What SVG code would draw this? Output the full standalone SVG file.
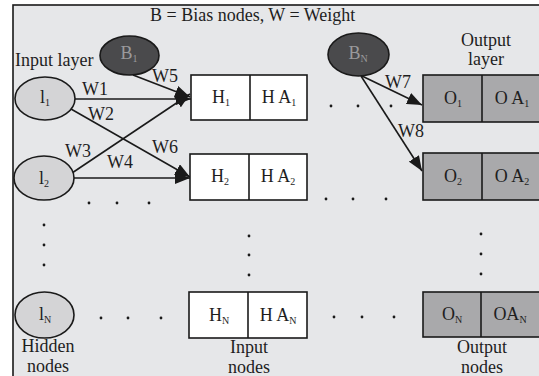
<svg xmlns="http://www.w3.org/2000/svg" width="539" height="376" viewBox="0 0 539 376">
<style>
text{font-family:"Liberation Serif","Times New Roman",serif;font-size:18px;fill:#1e1e1e}
.sub{font-size:10px}
.c{text-anchor:middle}
.ln{stroke:#1a1a1a;stroke-width:1.6;fill:none}
.in{fill:#d4d4d6;stroke:#1a1a1a;stroke-width:1.6}
.bias{fill:#4a4a4c;stroke:#1a1a1a;stroke-width:1.6}
.hb{fill:#ffffff;stroke:#1a1a1a;stroke-width:1.6}
.ob{fill:#a9a9ab;stroke:#1a1a1a;stroke-width:1.6}
.dot{fill:#1a1a1a}
</style>
<defs>
<marker id="ah" markerUnits="userSpaceOnUse" markerWidth="16" markerHeight="12" refX="15" refY="6" orient="auto">
<path d="M0,0 L15,6 L0,12 z" fill="#1a1a1a"/>
</marker>
</defs>
<rect x="0" y="0" width="539" height="376" fill="#ffffff"/>
<rect x="13" y="5" width="540" height="390" fill="#e6e7e9" stroke="#1a1a1a" stroke-width="1.6"/>
<text x="150" y="21">B = Bias nodes, W = Weight</text>
<text x="15" y="66">Input layer</text>
<text x="486" y="46" class="c">Output</text>
<text x="486" y="65" class="c">layer</text>
<text x="48" y="352" class="c">Hidden</text>
<text x="48" y="372" class="c">nodes</text>
<text x="249" y="353" class="c">Input</text>
<text x="249" y="373" class="c">nodes</text>
<text x="482" y="353" class="c">Output</text>
<text x="482" y="373" class="c">nodes</text>

<g id="connectors">
<line class="ln" x1="75" y1="99" x2="191" y2="99" marker-end="url(#ah)"/>
<line class="ln" x1="71" y1="109" x2="190" y2="177" marker-end="url(#ah)"/>
<line class="ln" x1="72" y1="173" x2="190" y2="94" marker-end="url(#ah)"/>
<line class="ln" x1="74" y1="178" x2="190" y2="178" marker-end="url(#ah)"/>
<line class="ln" x1="133" y1="75" x2="190" y2="97" marker-end="url(#ah)"/>
<line class="ln" x1="362" y1="76" x2="422" y2="105" marker-end="url(#ah)"/>
<line class="ln" x1="361" y1="76" x2="422" y2="171" marker-end="url(#ah)"/>
<text x="82" y="95">W1</text>
<text x="88" y="120">W2</text>
<text x="65" y="157">W3</text>
<text x="107" y="168">W4</text>
<text x="152" y="82">W5</text>
<text x="152" y="153">W6</text>
<text x="385" y="88">W7</text>
<text x="398" y="137">W8</text>
</g>

<g id="dots">
<circle class="dot" cx="331" cy="106" r="1.4"/><circle class="dot" cx="358" cy="106" r="1.4"/><circle class="dot" cx="391" cy="106" r="1.4"/>
<circle class="dot" cx="89" cy="203" r="1.4"/><circle class="dot" cx="117" cy="203" r="1.4"/><circle class="dot" cx="149" cy="203" r="1.4"/>
<circle class="dot" cx="44" cy="225" r="1.4"/><circle class="dot" cx="44" cy="245" r="1.4"/><circle class="dot" cx="44" cy="265" r="1.4"/>
<circle class="dot" cx="249" cy="236" r="1.4"/><circle class="dot" cx="249" cy="255" r="1.4"/><circle class="dot" cx="249" cy="275" r="1.4"/>
<circle class="dot" cx="326" cy="199" r="1.4"/><circle class="dot" cx="353" cy="199" r="1.4"/><circle class="dot" cx="386" cy="199" r="1.4"/>
<circle class="dot" cx="481" cy="234" r="1.4"/><circle class="dot" cx="481" cy="254" r="1.4"/><circle class="dot" cx="481" cy="274" r="1.4"/>
<circle class="dot" cx="334" cy="317" r="1.4"/><circle class="dot" cx="362" cy="317" r="1.4"/><circle class="dot" cx="394" cy="317" r="1.4"/>
<circle class="dot" cx="101" cy="318" r="1.4"/><circle class="dot" cx="128" cy="318" r="1.4"/><circle class="dot" cx="161" cy="318" r="1.4"/>
</g>

<g id="B1"><ellipse class="bias" cx="129.5" cy="55.5" rx="29.5" ry="19.5"/><text x="129" y="59" class="c" style="fill:#9a9a9c">B<tspan class="sub" dy="3">1</tspan></text></g>
<g id="BN"><ellipse class="bias" cx="358.5" cy="54.5" rx="30.5" ry="21.5"/><text x="358" y="59" class="c" style="fill:#9a9a9c">B<tspan class="sub" dy="3">N</tspan></text></g>

<g id="I1"><ellipse class="in" cx="45" cy="98.5" rx="30" ry="21.5"/><text x="45" y="103" class="c">l<tspan class="sub" dy="3">1</tspan></text></g>
<g id="I2"><ellipse class="in" cx="44" cy="178" rx="30" ry="22"/><text x="44" y="184" class="c">l<tspan class="sub" dy="3">2</tspan></text></g>
<g id="IN"><ellipse class="in" cx="44.5" cy="315" rx="29.5" ry="23"/><text x="45" y="320" class="c">l<tspan class="sub" dy="3">N</tspan></text></g>

<g id="H1"><rect class="hb" x="191" y="75" width="116" height="45"/><line class="ln" x1="250" y1="75" x2="250" y2="120"/><text x="221" y="103" class="c">H<tspan class="sub" dy="3">1</tspan></text><text x="279" y="103" class="c">H A<tspan class="sub" dy="3">1</tspan></text></g>
<g id="H2"><rect class="hb" x="190" y="154" width="117" height="46"/><line class="ln" x1="249" y1="154" x2="249" y2="200"/><text x="220" y="182" class="c">H<tspan class="sub" dy="3">2</tspan></text><text x="278" y="182" class="c">H A<tspan class="sub" dy="3">2</tspan></text></g>
<g id="HN"><rect class="hb" x="189" y="292" width="118" height="46"/><line class="ln" x1="248" y1="292" x2="248" y2="338"/><text x="219" y="321" class="c">H<tspan class="sub" dy="3">N</tspan></text><text x="278" y="321" class="c">H A<tspan class="sub" dy="3">N</tspan></text></g>

<g id="O1"><rect class="ob" x="423" y="75" width="130" height="47"/><line class="ln" x1="482" y1="75" x2="482" y2="122"/><text x="453" y="104" class="c">O<tspan class="sub" dy="3">1</tspan></text><text x="512" y="104" class="c">O A<tspan class="sub" dy="3">1</tspan></text></g>
<g id="O2"><rect class="ob" x="423" y="153" width="130" height="47"/><line class="ln" x1="482" y1="153" x2="482" y2="200"/><text x="453" y="182" class="c">O<tspan class="sub" dy="3">2</tspan></text><text x="512" y="182" class="c">O A<tspan class="sub" dy="3">2</tspan></text></g>
<g id="ON"><rect class="ob" x="423" y="292" width="130" height="45"/><line class="ln" x1="481" y1="292" x2="481" y2="337"/><text x="452" y="320" class="c">O<tspan class="sub" dy="3">N</tspan></text><text x="510" y="320" class="c">OA<tspan class="sub" dy="3">N</tspan></text></g>
</svg>
